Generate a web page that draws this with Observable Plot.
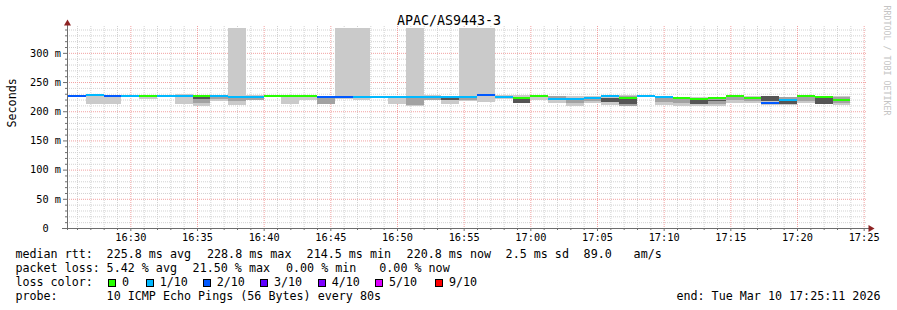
<!DOCTYPE html>
<html><head><meta charset="utf-8">
<script src="https://cdn.jsdelivr.net/npm/d3@7"></script>
<script src="https://cdn.jsdelivr.net/npm/@observablehq/plot@0.6"></script>
<style>
html,body{margin:0;padding:0;background:#fff;}
#wrap{position:relative;width:897px;height:310px;overflow:hidden;font-family:"DejaVu Sans Mono",monospace;background:#fff;}
#wrap svg{position:absolute;left:0;top:0;}
.lg{position:absolute;font-size:11.7px;line-height:14px;white-space:pre;color:#000;}
.box{position:absolute;width:8px;height:8px;box-sizing:border-box;border:1px solid #000;}
</style></head><body><div id="wrap"></div>
<script>
// ---- data ----
const title = "APAC/AS9443-3";
const yLabel = "Seconds";
const credit = "RRDTOOL / TOBI OETIKER";
const startTime = "2026-03-10T16:25:20Z";
const stepSeconds = 80;
const xDomain = ["2026-03-10T16:25:15Z", "2026-03-10T17:25:15Z"];
const yMax = 346;
const yTicks = [0, 50, 100, 150, 200, 250, 300];

const medians = [226.7, 228.3, 227.5, 226.6, 226.6, 226.6, 226.6, 226.3, 226.3, 225.0,
                 226.0, 226.3, 226.3, 227.8, 225.3, 225.3, 224.6, 225.3, 225.3, 225.3,
                 226.0, 224.8, 224.8, 228.8, 225.6, 223.6, 227.0, 222.2, 221.0, 223.8,
                 226.1, 223.6, 226.5, 224.4, 223.6, 222.2, 223.6, 226.1, 223.0, 214.5,
                 220.1, 226.1, 224.4, 220.8];
const lossCount = [2, 1, 2, 1, 0, 1, 1, 0, 1, 1,
                   1, 0, 0, 0, 2, 2, 1, 1, 1, 1,
                   1, 1, 1, 2, 1, 0, 0, 1, 1, 1,
                   1, 0, 1, 1, 0, 0, 0, 0, 0, 2,
                   1, 0, 0, 0];
const outerLo = [226, 212.4, 212.4, 225.5, 221, 225.5, 212.4, 209, 216.7, 211,
                 218.4, 225.3, 212.4, 219.3, 212.4, 221, 219.3, 224.3, 212.4, 209,
                 218.4, 212.4, 217, 215.8, 221, 213.3, 218.4, 214, 209, 214.1,
                 210, 209, 225.5, 210.7, 209, 209, 209, 214.8, 213.3, 210.7,
                 210.7, 214.1, 212.4, 210.7];
const outerHi = [228, 228.5, 228.3, 227.6, 227.2, 227.6, 229.5, 227, 227, 343,
                 227, 227.3, 226.8, 228.5, 226, 343, 343, 226.3, 226.3, 343,
                 227, 226, 343, 343, 227.5, 227.4, 227.5, 226.5, 226, 226.5,
                 227, 227.8, 227.5, 225.5, 225, 224, 225, 226.5, 226.5, 226,
                 225, 226.5, 225.5, 226];
const midLo = [null, null, null, null, null, null, null, 214, 221, 218,
               219, null, null, null, 212.4, null, null, null, null, 211,
               220, null, 219, null, null, null, null, 221, 214, 217,
               null, 209, null, 215.8, 213.5, null, 213, 219, 217, null,
               212, 218, null, 214];
const midHi = [null, null, null, null, null, null, null, 221.5, 224.5, 224,
               225, null, null, null, 224.5, null, null, null, null, 223,
               225, null, 223.5, null, null, null, null, 226, 223, 224.5,
               null, 226, null, 223.5, 222, null, 222, 224, 222, null,
               224, 224, null, 224];
const darkLo = [null, null, null, null, null, null, null, 221.5, null, null,
                null, null, null, null, null, null, null, null, null, null,
                null, 219.3, null, null, null, 214.5, null, null, null, null,
                216, 212.4, null, null, null, 212.4, 216.7, null, null, 217,
                212.4, null, 213, null];
const darkHi = [null, null, null, null, null, null, null, 225.5, null, null,
                null, null, null, null, null, null, null, null, null, null,
                null, 223.6, null, null, null, 222.5, null, null, null, null,
                223.5, 222, null, null, null, 220.5, 220, null, null, 225.5,
                218, null, 222.5, null];

const lossLevels = [0, 1, 2, 3, 4, 5, 9];
const lossLabels = ["0", "1/10", "2/10", "3/10", "4/10", "5/10", "9/10"];
const lossColors = ["#26ff00", "#00b8ff", "#0059ff", "#5e00ff", "#7e00ff", "#dd00ff", "#ff0000"];

const rttHead = "median rtt:";
const rttStats = ["225.8 ms avg", "228.8 ms max", "214.5 ms min", "220.8 ms now", "2.5 ms sd", "89.0", "am/s"];
const lossHead = "packet loss:";
const lossStats = ["5.42 % avg", "21.50 % max", "0.00 % min", "0.00 % now"];
const colorHead = "loss color:";
const probeHead = "probe:";
const probeText = "10 ICMP Echo Pings (56 Bytes) every 80s";
const endText = "end: Tue Mar 10 17:25:11 2026";

// ---- build table ----
const t0ms = Date.parse(startTime);
const steps = medians.map((m, i) => ({
  t0: new Date(t0ms + i * stepSeconds * 1000),
  t1: new Date(t0ms + (i + 1) * stepSeconds * 1000),
  median: m,
  color: lossColors[lossLevels.indexOf(lossCount[i])],
  outerLo: outerLo[i], outerHi: outerHi[i],
  midLo: midLo[i], midHi: midHi[i],
  darkLo: darkLo[i], darkHi: darkHi[i]
}));

const x0 = new Date(xDomain[0]), x1 = new Date(xDomain[1]);
const majorX = d3.utcMinute.every(5).range(x0, x1);
const minorX = d3.utcMinute.every(1).range(x0, x1).filter(d => d.getUTCMinutes() % 5 !== 0);
const minorY = d3.range(10, yMax, 10).filter(v => v % 50 !== 0);
const majorY = yTicks.filter(v => v > 0);

const gridMinor = "#d2d2d2", gridMajor = "#f2a2a2", axisColor = "#6e6e6e", arrowColor = "#8e2323";

const chart = Plot.plot({
  width: 897, height: 245,
  marginLeft: 67, marginRight: 30, marginTop: 26, marginBottom: 17,
  style: {fontFamily: '"DejaVu Sans Mono", monospace', fontSize: "10.3px", color: "#000", background: "#fff", overflow: "visible"},
  x: {type: "utc", domain: [x0, x1]},
  y: {domain: [0, yMax]},
  color: {type: "identity"},
  marks: [
    Plot.ruleY(minorY, {stroke: gridMinor, strokeDasharray: "1,1"}),
    Plot.ruleX(minorX, {stroke: gridMinor, strokeDasharray: "1,1"}),
    Plot.ruleY(majorY, {stroke: gridMajor, strokeDasharray: "1,1"}),
    Plot.ruleX(majorX, {stroke: gridMajor, strokeDasharray: "1,1"}),
    Plot.rect(steps, {x1: "t0", x2: "t1", y1: "outerLo", y2: "outerHi", fill: "#cacaca", shapeRendering: "crispEdges"}),
    Plot.rect(steps.filter(d => d.midLo != null), {x1: "t0", x2: "t1", y1: "midLo", y2: "midHi", fill: "#a2a2a2", shapeRendering: "crispEdges"}),
    Plot.rect(steps.filter(d => d.darkLo != null), {x1: "t0", x2: "t1", y1: "darkLo", y2: "darkHi", fill: "#555555", shapeRendering: "crispEdges"}),
    Plot.ruleY(steps, {y: "median", x1: "t0", x2: "t1", stroke: "color", strokeWidth: 2, shapeRendering: "crispEdges"}),
    // axes lines and ticks
    Plot.ruleY(yTicks, {x1: x0, x2: x0, insetLeft: -4, stroke: axisColor}),
    Plot.ruleY(minorY, {x1: x0, x2: x0, insetLeft: -2, stroke: axisColor}),
    Plot.ruleX(majorX, {y1: 0, y2: 0, insetBottom: -3, stroke: axisColor}),
    Plot.ruleX(minorX, {y1: 0, y2: 0, insetBottom: -2, stroke: axisColor}),
    Plot.ruleX([x0], {stroke: axisColor, insetTop: -4, insetBottom: -2}),
    Plot.ruleY([0], {stroke: axisColor, insetLeft: -5, insetRight: -3}),
    Plot.dot([0], {frameAnchor: "top-left", symbol: "triangle", r: 2.6, fill: arrowColor, stroke: "none", dy: -3}),
    Plot.dot([0], {frameAnchor: "bottom-right", symbol: "triangle", r: 2.6, fill: arrowColor, stroke: "none", rotate: 90, dx: 3}),
    Plot.axisX({ticks: majorX, tickFormat: d3.utcFormat("%H:%M"), tickSize: 0, tickPadding: 5.5, label: null, fontSize: 10.3}),
    Plot.axisY({ticks: yTicks, tickFormat: d => d === 0 ? "0\u00a0\u00a0" : `${d} m`, tickSize: 0, tickPadding: 6.5, label: null, fontSize: 10.3}),
    Plot.text([yLabel], {text: d => d, frameAnchor: "left", dx: -55, rotate: -90, fontSize: 11.7}),
    Plot.text([title], {text: d => d, frameAnchor: "top", dx: -18.5, dy: -1.5, lineAnchor: "bottom", fontSize: 13.3}),
    Plot.text([credit], {text: d => d, frameAnchor: "top-right", rotate: 90, textAnchor: "start", dx: 22, dy: -21, fill: "#c4c4c4", fontSize: 8.3})
  ]
});
const wrap = document.getElementById("wrap");
wrap.appendChild(chart);

// ---- legend (HTML below the chart) ----
function addText(txt, left, baseline) {
  const s = document.createElement("div");
  s.className = "lg";
  s.textContent = txt;
  s.style.left = left + "px";
  s.style.top = (baseline - 11) + "px";
  wrap.appendChild(s);
  return s;
}
const headX = 15.4;
const rttX = [106.6, 207, 306.6, 406.6, 505.6, 583.6, 633.6];
const lossX = [106.6, 192.6, 286, 379.3];
const boxX = [108, 145.7, 202.7, 260, 317.7, 375, 435];
const baselines = [258, 272, 286, 300];

addText(rttHead, headX, baselines[0]);
rttStats.forEach((t, i) => addText(t, rttX[i], baselines[0]));
addText(lossHead, headX, baselines[1]);
lossStats.forEach((t, i) => addText(t, lossX[i], baselines[1]));
addText(colorHead, headX, baselines[2]);
lossLabels.forEach((t, i) => {
  const b = document.createElement("div");
  b.className = "box";
  b.style.left = boxX[i] + "px";
  b.style.top = (baselines[2] - 7.5) + "px";
  b.style.background = lossColors[i];
  wrap.appendChild(b);
  addText(t, boxX[i] + 14, baselines[2]);
});
addText(probeHead, headX, baselines[3]);
addText(probeText, 106.6, baselines[3]);
const e = addText(endText, 0, baselines[3]);
e.style.left = "auto";
e.style.right = "16.5px";
</script>
</body></html>
